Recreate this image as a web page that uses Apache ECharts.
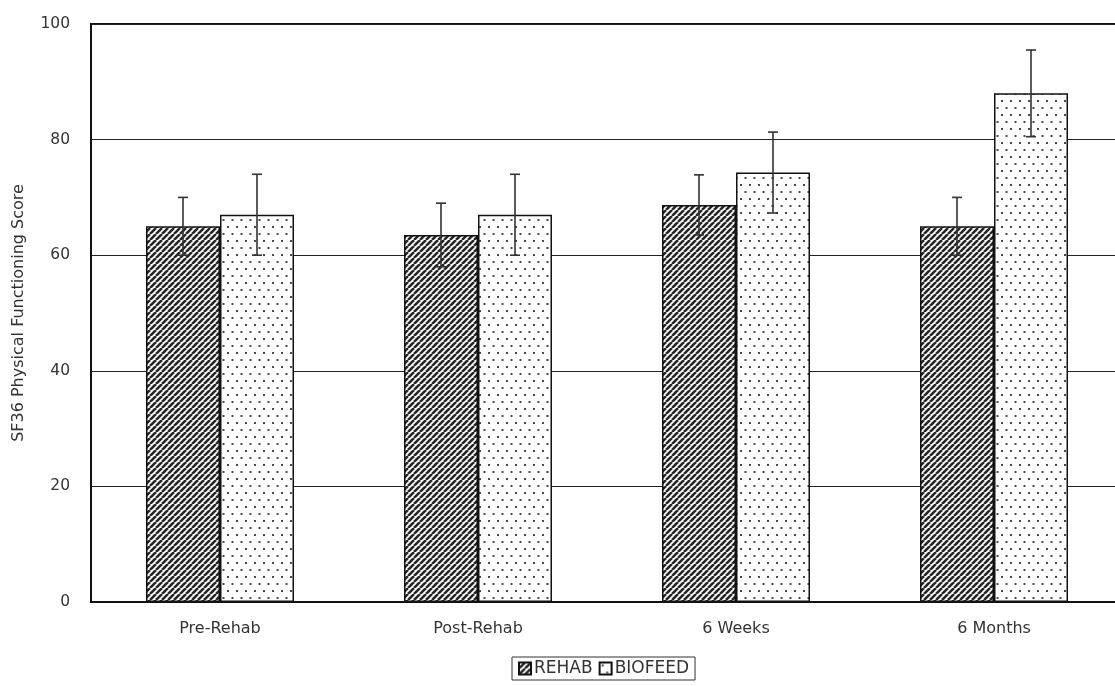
<!DOCTYPE html>
<html>
<head>
<meta charset="utf-8">
<script src="https://cdn.jsdelivr.net/npm/echarts@6/dist/echarts.min.js"></script>
<style>
  html, body { margin: 0; padding: 0; background: #fff; overflow: hidden; }
  #chart { width: 1130px; height: 686px; }
</style>
</head>
<body>
<div id="chart"></div>
<script>
// Time points
const categories = ['Pre-Rehab', 'Post-Rehab', '6 Weeks', '6 Months'];
// Mean SF36 physical functioning scores
const rehabMean = [65, 63.5, 68.7, 65];
const biofeedMean = [67, 67, 74.3, 88];
// Error bar half-lengths
const rehabErr = [5, 5.5, 5.2, 5];
const biofeedErr = [7, 7, 7, 7.5];
// Y axis ticks
const yTicks = [0, 20, 40, 60, 80, 100];

const BAR_W = 74;
const FONT = 'DejaVu Sans, Verdana, sans-serif';

// Hatched fill: dark with light diagonal stripes
function hatchPattern() {
  const c = document.createElement('canvas');
  c.width = 6; c.height = 6;
  const g = c.getContext('2d');
  g.fillStyle = '#ffffff';
  g.fillRect(0, 0, 6, 6);
  g.strokeStyle = '#262626';
  g.lineWidth = 2.6;
  g.beginPath();
  for (let k = -6; k <= 12; k += 6) {
    g.moveTo(k, 6); g.lineTo(k + 6, 0);
  }
  g.stroke();
  return c;
}

// Dotted fill: white with staggered grey dots
function dotPattern() {
  const c = document.createElement('canvas');
  c.width = 9; c.height = 14;
  const g = c.getContext('2d');
  g.fillStyle = '#ffffff';
  g.fillRect(0, 0, 9, 14);
  g.fillStyle = '#4a4a4a';
  g.fillRect(2, 2, 2, 2);
  g.fillRect(6.5, 9, 2, 2);
  return c;
}

const hatchFill = { image: hatchPattern(), repeat: 'repeat' };
const dotFill = { image: dotPattern(), repeat: 'repeat' };

function errData(mean, err) {
  return mean.map((m, i) => [i, m - err[i], m + err[i]]);
}

function errorBars(offset) {
  return function (params, api) {
    const i = api.value(0);
    const lo = api.coord([i, api.value(1)]);
    const hi = api.coord([i, api.value(2)]);
    const x = lo[0] + offset;
    const cap = 5;
    const style = { stroke: '#333333', lineWidth: 1.6 };
    return {
      type: 'group',
      children: [
        { type: 'line', shape: { x1: x, y1: hi[1], x2: x, y2: lo[1] }, style },
        { type: 'line', shape: { x1: x - cap, y1: hi[1], x2: x + cap, y2: hi[1] }, style },
        { type: 'line', shape: { x1: x - cap, y1: lo[1], x2: x + cap, y2: lo[1] }, style }
      ]
    };
  };
}

const chart = echarts.init(document.getElementById('chart'), null, { renderer: 'canvas' });

chart.setOption({
  animation: false,
  backgroundColor: '#ffffff',
  grid: {
    left: 91, top: 24, right: 7, bottom: 84,
    outerBoundsMode: 'none',
    show: true, borderColor: '#111111', borderWidth: 2, backgroundColor: 'transparent'
  },
  legend: {
    left: 512, top: 657,
    data: ['REHAB', 'BIOFEED'],
    orient: 'horizontal',
    icon: 'rect',
    itemWidth: 12, itemHeight: 12, itemGap: 6,
    padding: [3, 6, 3, 6],
    borderColor: '#333333', borderWidth: 1,
    textStyle: { fontFamily: FONT, fontSize: 17, color: '#333333', padding: [0, 0, 0, -2] }
  },
  xAxis: {
    type: 'category',
    data: categories,
    axisLine: { show: true, lineStyle: { color: '#111111', width: 2 } },
    axisTick: { show: false },
    axisLabel: { fontFamily: FONT, fontSize: 16, color: '#333333', margin: 19 },
    splitLine: { show: false }
  },
  yAxis: {
    type: 'value',
    min: yTicks[0], max: yTicks[yTicks.length - 1], interval: 20,
    name: 'SF36 Physical Functioning Score',
    nameLocation: 'middle',
    nameGap: 64,
    nameTextStyle: { fontFamily: FONT, fontSize: 16, color: '#333333' },
    axisLine: { show: true, lineStyle: { color: '#111111', width: 2 } },
    axisTick: { show: false },
    axisLabel: { fontFamily: FONT, fontSize: 15.5, color: '#333333', margin: 21 },
    splitLine: { show: true, lineStyle: { color: '#222222', width: 1 } }
  },
  series: [
    {
      name: 'REHAB', type: 'bar', data: rehabMean,
      barWidth: BAR_W, barGap: '0%',
      itemStyle: { color: hatchFill, borderColor: '#111111', borderWidth: 1.5 }
    },
    {
      name: 'BIOFEED', type: 'bar', data: biofeedMean,
      barWidth: BAR_W, barGap: '0%',
      itemStyle: { color: dotFill, borderColor: '#111111', borderWidth: 1.5 }
    },
    {
      type: 'custom', name: 'rehabErr', data: errData(rehabMean, rehabErr),
      renderItem: errorBars(-BAR_W / 2), encode: { x: 0, y: [1, 2] }, z: 10, silent: true
    },
    {
      type: 'custom', name: 'biofeedErr', data: errData(biofeedMean, biofeedErr),
      renderItem: errorBars(BAR_W / 2), encode: { x: 0, y: [1, 2] }, z: 10, silent: true
    }
  ]
});
</script>
</body>
</html>
